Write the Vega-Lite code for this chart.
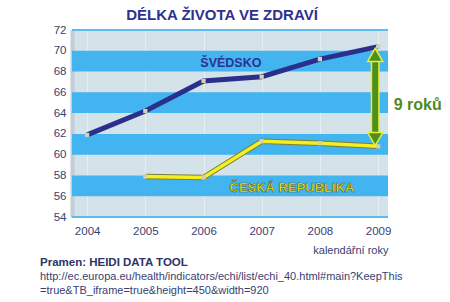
{
  "$schema": "https://vega.github.io/schema/vega-lite/v6.json",
  "width": 316,
  "height": 187,
  "autosize": "none",
  "padding": {"left": 72, "top": 30, "right": 62, "bottom": 85},
  "background": "white",
  "config": {
    "font": "Liberation Sans",
    "view": {"fill": "#d4e2ea", "stroke": null},
    "axisY": {"labelOverlap": false, "tickCount": 10}
  },
  "title": {
    "text": "DÉLKA ŽIVOTA VE ZDRAVÍ",
    "font": "Liberation Sans",
    "fontSize": 15,
    "fontWeight": "bold",
    "color": "#2e3192",
    "anchor": "middle",
    "dx": -8,
    "offset": 1
  },
  "datasets": {
    "bands": [
      {"lo": 56, "hi": 58},
      {"lo": 60, "hi": 62},
      {"lo": 64, "hi": 66},
      {"lo": 68, "hi": 70}
    ],
    "series": [
      {"country": "Švédsko", "year": 2004, "value": 61.9},
      {"country": "Švédsko", "year": 2005, "value": 64.2},
      {"country": "Švédsko", "year": 2006, "value": 67.1},
      {"country": "Švédsko", "year": 2007, "value": 67.5},
      {"country": "Švédsko", "year": 2008, "value": 69.2},
      {"country": "Švédsko", "year": 2009, "value": 70.4},
      {"country": "Česká republika", "year": 2005, "value": 57.9},
      {"country": "Česká republika", "year": 2006, "value": 57.8},
      {"country": "Česká republika", "year": 2007, "value": 61.3},
      {"country": "Česká republika", "year": 2008, "value": 61.1},
      {"country": "Česká republika", "year": 2009, "value": 60.8}
    ],
    "arrow": [{"year": 2008.95, "top": 69.6, "bottom": 61.5}],
    "heads": [
      {"year": 2008.95, "value": 69.6, "shape": "triangle-up"},
      {"year": 2008.95, "value": 61.5, "shape": "triangle-down"}
    ],
    "notes": [
      {"label": "Pramen: HEIDI DATA TOOL", "year": 2003.19, "value": 49.6, "kind": "source"},
      {"label": "http://ec.europa.eu/health/indicators/echi/list/echi_40.html#main?KeepThis", "year": 2003.19, "value": 48.2, "kind": "url"},
      {"label": "=true&TB_iframe=true&height=450&width=920", "year": 2003.19, "value": 46.85, "kind": "url"}
    ]
  },
  "layer": [
    {
      "data": {"name": "bands"},
      "mark": {"type": "rect", "color": "#42b4f0"},
      "encoding": {
        "y": {"field": "lo", "type": "quantitative", "scale": {"domain": [54, 72], "nice": false, "zero": false},
          "axis": {"values": [54, 56, 58, 60, 62, 64, 66, 68, 70, 72], "labelOverlap": false, "title": null, "labelFontSize": 11.5, "labelColor": "#3a4170", "labelPadding": 6, "ticks": false, "domain": true, "domainColor": "#c4ccd6", "domainWidth": 4, "grid": false}},
        "y2": {"field": "hi"}
      }
    },
    {
      "data": {"values": [{"v": 54}, {"v": 72}]},
      "mark": {"type": "rule", "color": "#5cbcf2", "strokeWidth": 2},
      "encoding": {
        "y": {"field": "v", "type": "quantitative", "axis": {"values": [54, 56, 58, 60, 62, 64, 66, 68, 70, 72], "labelOverlap": false}}
      }
    },
    {
      "data": {"name": "series"},
      "transform": [{"filter": "datum.country === 'Švédsko'"}],
      "mark": {"type": "line", "color": "#2b2f8c", "strokeWidth": 5},
      "encoding": {
        "x": {
          "field": "year",
          "type": "quantitative",
          "scale": {"domain": [2003.74, 2009.17], "nice": false, "zero": false},
          "axis": {
            "values": [2004, 2005, 2006, 2007, 2008, 2009],
            "format": "d",
            "title": "kalendářní roky",
            "titleAnchor": "end",
            "titleAlign": "right",
            "titleFontWeight": "normal",
            "titleFontSize": 11,
            "titleColor": "#3a4170",
            "titlePadding": 8,
            "labelFontSize": 11.5,
            "labelColor": "#3a4170",
            "labelPadding": 8,
            "ticks": false,
            "domain": false,
            "grid": true,
            "gridColor": "#ffffff",
            "gridOpacity": 0.45,
            "gridWidth": 1
          }
        },
        "y": {"field": "value", "type": "quantitative", "axis": {"values": [54, 56, 58, 60, 62, 64, 66, 68, 70, 72], "labelOverlap": false}}
      }
    },
    {
      "data": {"name": "series"},
      "transform": [{"filter": "datum.country === 'Česká republika'"}],
      "mark": {"type": "line", "color": "#7d7d3a", "strokeWidth": 5.5},
      "encoding": {
        "x": {"field": "year", "type": "quantitative"},
        "y": {"field": "value", "type": "quantitative"}
      }
    },
    {
      "data": {"name": "series"},
      "transform": [{"filter": "datum.country === 'Česká republika'"}],
      "mark": {"type": "line", "color": "#f4f020", "strokeWidth": 3.5},
      "encoding": {
        "x": {"field": "year", "type": "quantitative"},
        "y": {"field": "value", "type": "quantitative"}
      }
    },
    {
      "data": {"name": "series"},
      "mark": {"type": "point", "shape": "square", "filled": true, "color": "#d4d0b0", "size": 18, "opacity": 1},
      "encoding": {
        "x": {"field": "year", "type": "quantitative"},
        "y": {"field": "value", "type": "quantitative"}
      }
    },
    {
      "data": {"name": "arrow"},
      "mark": {"type": "rule", "color": "#e6ef3c", "strokeWidth": 9},
      "encoding": {
        "x": {"field": "year", "type": "quantitative"},
        "y": {"field": "top", "type": "quantitative"},
        "y2": {"field": "bottom"}
      }
    },
    {
      "data": {"name": "arrow"},
      "mark": {"type": "rule", "color": "#4f8f1c", "strokeWidth": 6},
      "encoding": {
        "x": {"field": "year", "type": "quantitative"},
        "y": {"field": "top", "type": "quantitative"},
        "y2": {"field": "bottom"}
      }
    },
    {
      "data": {"name": "heads"},
      "mark": {"type": "point", "filled": true, "color": "#4f8f1c", "stroke": "#e6ef3c", "strokeWidth": 1.5, "size": 230, "opacity": 1},
      "encoding": {
        "x": {"field": "year", "type": "quantitative"},
        "y": {"field": "value", "type": "quantitative"},
        "shape": {"field": "shape", "type": "nominal", "scale": null, "legend": null}
      }
    },
    {
      "data": {"values": [{"label": "ŠVÉDSKO", "year": 2006.47, "value": 68.85}]},
      "mark": {"type": "text", "fontWeight": "bold", "fontSize": 12.5, "color": "#2e3192", "align": "center", "baseline": "middle"},
      "encoding": {
        "x": {"field": "year", "type": "quantitative"},
        "y": {"field": "value", "type": "quantitative"},
        "text": {"field": "label"}
      }
    },
    {
      "data": {"values": [{"label": "ČESKÁ REPUBLIKA", "year": 2007.52, "value": 56.8}]},
      "mark": {"type": "text", "fontWeight": "bold", "fontSize": 13, "fill": "#f4f020", "stroke": "#5b5b2a", "strokeWidth": 0.6, "align": "center", "baseline": "middle"},
      "encoding": {
        "x": {"field": "year", "type": "quantitative"},
        "y": {"field": "value", "type": "quantitative"},
        "text": {"field": "label"}
      }
    },
    {
      "data": {"values": [{"label": "9 roků", "year": 2009.68, "value": 64.8}]},
      "mark": {"type": "text", "fontWeight": "bold", "fontSize": 16, "color": "#4f8a1e", "align": "center", "baseline": "middle", "clip": false},
      "encoding": {
        "x": {"field": "year", "type": "quantitative"},
        "y": {"field": "value", "type": "quantitative"},
        "text": {"field": "label"}
      }
    },
    {
      "data": {"name": "notes"},
      "transform": [{"filter": "datum.kind === 'source'"}],
      "mark": {"type": "text", "align": "left", "baseline": "middle", "clip": false, "fontSize": 11.5, "fontWeight": "bold", "color": "#2e3466"},
      "encoding": {
        "x": {"field": "year", "type": "quantitative"},
        "y": {"field": "value", "type": "quantitative"},
        "text": {"field": "label"}
      }
    },
    {
      "data": {"name": "notes"},
      "transform": [{"filter": "datum.kind === 'url'"}],
      "mark": {"type": "text", "align": "left", "baseline": "middle", "clip": false, "fontSize": 11, "color": "#3a4170"},
      "encoding": {
        "x": {"field": "year", "type": "quantitative"},
        "y": {"field": "value", "type": "quantitative"},
        "text": {"field": "label"}
      }
    }
  ]
}
